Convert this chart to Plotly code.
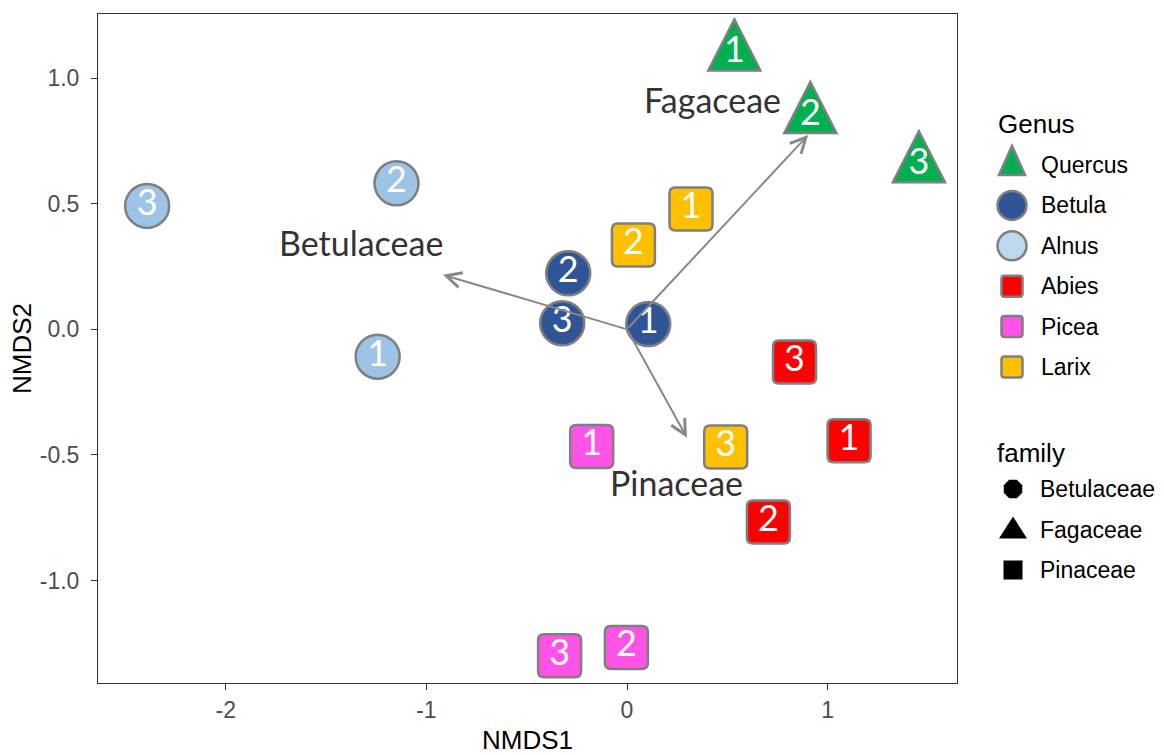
import plotly.graph_objects as go

# ---------------- data ----------------
genera = ["Quercus", "Betula", "Alnus", "Abies", "Picea", "Larix"]
genus_family = ["Fagaceae", "Betulaceae", "Betulaceae", "Pinaceae", "Pinaceae", "Pinaceae"]
replicates = ["1", "2", "3"]

quercus_x = [0.535, 0.914, 1.455]
quercus_y = [1.098, 0.849, 0.653]
betula_x = [0.106, -0.293, -0.323]
betula_y = [0.021, 0.223, 0.024]
alnus_x = [-1.243, -1.149, -2.392]
alnus_y = [-0.109, 0.581, 0.491]
abies_x = [1.107, 0.705, 0.835]
abies_y = [-0.443, -0.767, -0.130]
picea_x = [-0.176, -0.003, -0.336]
picea_y = [-0.466, -1.266, -1.299]
larix_x = [0.319, 0.032, 0.492]
larix_y = [0.479, 0.335, -0.468]

genus_x = [quercus_x, betula_x, alnus_x, abies_x, picea_x, larix_x]
genus_y = [quercus_y, betula_y, alnus_y, abies_y, picea_y, larix_y]

families = ["Betulaceae", "Fagaceae", "Pinaceae"]
family_arrow_x = [-0.918, 0.903, 0.299]
family_arrow_y = [0.217, 0.773, -0.432]
family_label_x = [-1.327, 0.424, 0.248]
family_label_y = [0.345, 0.915, -0.610]

x_ticks = [-2, -1, 0, 1]
x_ticktext = ["-2", "-1", "0", "1"]
y_ticks = [-1.0, -0.5, 0.0, 0.5, 1.0]
y_ticktext = ["-1.0", "-0.5", "0.0", "0.5", "1.0"]

# ---------------- styles ----------------
W, H = 1164, 755
ML, MT, MB = 98, 14, 72
PLOT_RIGHT = 957
x_dom_end = (PLOT_RIGHT - ML) / (W - ML)

genus_color = {"Quercus": "#00B050", "Betula": "#2F5597", "Alnus": "#9DC3E6",
               "Abies": "#FF0000", "Picea": "#FF52E6", "Larix": "#FFC000"}
legend_color = dict(genus_color, Alnus="#BDD7EE")
family_shape = {"Betulaceae": "circle", "Fagaceae": "triangle", "Pinaceae": "square"}
OUTLINE = "#7F7F7F"
AXIS_FONT = "Liberation Sans, Arial, sans-serif"
LABEL_FONT = "Lato, Open Sans, sans-serif"


def tri_path(w, up, down):
    return f"M0,{up} L{w/2},{-down} L{-w/2},{-down} Z"


def rsq_path(half, r):
    a = half
    b = half - r
    return (f"M{-b},{a} L{b},{a} Q{a},{a} {a},{b} L{a},{-b} Q{a},{-a} {b},{-a} "
            f"L{-b},{-a} Q{-a},{-a} {-a},{-b} L{-a},{b} Q{-a},{a} {-b},{a} Z")


fig = go.Figure()
shapes = []
annotations = []

# ---------------- points ----------------
for g, fam, xs, ys in zip(genera, genus_family, genus_x, genus_y):
    kind = family_shape[fam]
    col = genus_color[g]
    if kind == "circle":
        fig.add_trace(go.Scatter(
            x=xs, y=ys, mode="markers+text", text=replicates, name=g,
            marker=dict(symbol="circle", size=44, color=col,
                        line=dict(color=OUTLINE, width=2.5)),
            textposition="middle center",
            textfont=dict(family=LABEL_FONT, size=36, color="white"),
            showlegend=False, hoverinfo="x+y+name"))
    else:
        path = tri_path(52, 34, 17) if kind == "triangle" else rsq_path(21.5, 6)
        for xv, yv in zip(xs, ys):
            shapes.append(dict(type="path", xref="x", yref="y",
                               xsizemode="pixel", ysizemode="pixel",
                               xanchor=xv, yanchor=yv, path=path,
                               fillcolor=col, line=dict(color=OUTLINE, width=2.5),
                               layer="below"))
        fig.add_trace(go.Scatter(
            x=xs, y=ys, mode="text", text=replicates, name=g,
            textposition="middle center",
            textfont=dict(family=LABEL_FONT, size=36, color="white"),
            showlegend=False, hoverinfo="x+y+name"))

# ---------------- family vectors ----------------
for fam, ax_, ay_, lx, ly in zip(families, family_arrow_x, family_arrow_y,
                                 family_label_x, family_label_y):
    annotations.append(dict(x=ax_, y=ay_, ax=0, ay=0, xref="x", yref="y",
                            axref="x", ayref="y", text="", showarrow=True,
                            arrowhead=5, arrowsize=1.5, arrowwidth=2,
                            arrowcolor="#888888", standoff=0))
    annotations.append(dict(x=lx, y=ly, xref="x", yref="y", text=fam,
                            showarrow=False, xanchor="center", yanchor="middle",
                            font=dict(family=LABEL_FONT, size=34, color="#333333")))

# ---------------- manual legend (x2/y2 in screen pixels) ----------------
SYM_X = 1012
TXT_X = 1039
annotations.append(dict(x=996, y=124, xref="x2", yref="y2", text="Genus",
                        showarrow=False, xanchor="left", yanchor="middle",
                        font=dict(family=AXIS_FONT, size=26, color="black")))
for i, (g, fam) in enumerate(zip(genera, genus_family)):
    yy = 165 + i * 40.4
    kind = family_shape[fam]
    col = legend_color[g]
    if kind == "circle":
        fig.add_trace(go.Scatter(x=[SYM_X], y=[yy], xaxis="x2", yaxis="y2",
                                 mode="markers", showlegend=False, hoverinfo="skip",
                                 marker=dict(symbol="circle", size=29, color=col,
                                             line=dict(color=OUTLINE, width=2.5))))
    else:
        path = tri_path(26, 19, 10) if kind == "triangle" else rsq_path(10.5, 3)
        shapes.append(dict(type="path", xref="x2", yref="y2",
                           xsizemode="pixel", ysizemode="pixel",
                           xanchor=SYM_X, yanchor=yy, path=path,
                           fillcolor=col, line=dict(color=OUTLINE, width=2.5)))
    annotations.append(dict(x=TXT_X, y=yy, xref="x2", yref="y2", text=g,
                            showarrow=False, xanchor="left", yanchor="middle",
                            font=dict(family=AXIS_FONT, size=23, color="black")))

annotations.append(dict(x=995, y=453, xref="x2", yref="y2", text="family",
                        showarrow=False, xanchor="left", yanchor="middle",
                        font=dict(family=AXIS_FONT, size=26, color="black")))
for i, fam in enumerate(families):
    yy = 489 + i * 40.5
    kind = family_shape[fam]
    if kind == "circle":
        fig.add_trace(go.Scatter(x=[SYM_X + 1], y=[yy], xaxis="x2", yaxis="y2",
                                 mode="markers", showlegend=False, hoverinfo="skip",
                                 marker=dict(symbol="octagon", size=20, color="black",
                                             line=dict(width=0))))
    else:
        path = tri_path(28, 13, 9) if kind == "triangle" else rsq_path(9.5, 0)
        shapes.append(dict(type="path", xref="x2", yref="y2",
                           xsizemode="pixel", ysizemode="pixel",
                           xanchor=SYM_X + 1, yanchor=yy, path=path,
                           fillcolor="black", line=dict(width=0)))
    annotations.append(dict(x=TXT_X - 1, y=yy, xref="x2", yref="y2", text=fam,
                            showarrow=False, xanchor="left", yanchor="middle",
                            font=dict(family=AXIS_FONT, size=23, color="black")))

# ---------------- layout ----------------
axis_common = dict(showgrid=False, zeroline=False, showline=True, mirror=True,
                   linecolor="#333333", linewidth=1, ticks="outside", ticklen=6,
                   tickcolor="#333333", tickwidth=1,
                   tickfont=dict(family=AXIS_FONT, size=23, color="#4D4D4D"))

fig.update_layout(
    width=W, height=H,
    margin=dict(l=ML, r=0, t=MT, b=MB, autoexpand=False),
    paper_bgcolor="white", plot_bgcolor="white",
    showlegend=False,
    xaxis=dict(domain=[0, x_dom_end], range=[-2.637, 1.645],
               tickvals=x_ticks, ticktext=x_ticktext,
               title=dict(text="NMDS1", standoff=11,
                          font=dict(family=AXIS_FONT, size=26, color="black")),
               **axis_common),
    yaxis=dict(domain=[0, 1], range=[-1.4075, 1.2547],
               tickvals=y_ticks, ticktext=y_ticktext, ticklabelstandoff=7,
               title=dict(text="NMDS2", standoff=0,
                          font=dict(family=AXIS_FONT, size=26, color="black")),
               **axis_common),
    xaxis2=dict(domain=[x_dom_end, 1], range=[PLOT_RIGHT, W], visible=False,
                anchor="y2", fixedrange=True),
    yaxis2=dict(domain=[0, 1], range=[H - MB, MT], visible=False,
                anchor="x2", fixedrange=True),
    shapes=shapes,
    annotations=annotations,
)

fig.write_html("out.html", config={"displayModeBar": False},
               post_script="document.body.style.margin='0px';")
